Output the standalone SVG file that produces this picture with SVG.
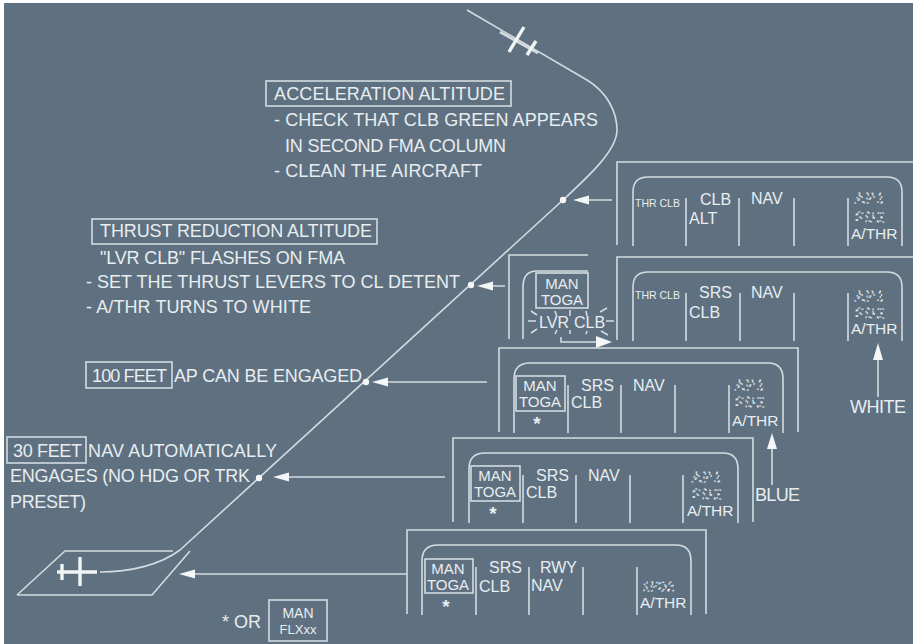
<svg xmlns="http://www.w3.org/2000/svg" width="913" height="644" viewBox="0 0 913 644">
<style>
text{font-family:"Liberation Sans",Arial,sans-serif;fill:#e8edf0;font-size:16px}
.n{font-size:18px}
.l{fill:none;stroke:#d3dbe0;stroke-width:1.6}
.w{fill:none;stroke:#f2f5f6;stroke-width:3.4}
.m{font-size:15px}
.t{font-size:15.5px}
.s{font-size:10.5px}
.r{font-size:19px;font-weight:bold}
.d{font-size:14px;letter-spacing:1.5px;fill:none;stroke:#e8edf0;stroke-width:1;stroke-dasharray:2 3.5}
.h{fill:#f4f6f7}
.a{fill:#f4f6f7;stroke:none}
</style>
<defs>
<path id="ah" class="a" d="M0 0L16 -4.5V4.5Z"/>
</defs>
<rect width="913" height="644" fill="#fff"/>
<rect x="4" y="3" width="909" height="641" fill="#5f7181"/>

<g id="connectors">
<path class="l" d="M467 10L587 80C607 92 617 112 617 130C617 150 590 175 563 200L180 550C160 565 130 572 100 572"/>
<circle class="h" cx="563" cy="200" r="3.2"/>
<circle class="h" cx="471" cy="285" r="3.2"/>
<circle class="h" cx="366" cy="382" r="3.2"/>
<circle class="h" cx="259" cy="478" r="3.2"/>
<path class="l" d="M585 200H612M490 286H505M386 382H487M285 477H445M195 574H407"/>
<use href="#ah" x="573" y="200"/>
<use href="#ah" x="477" y="286"/>
<use href="#ah" x="372" y="382"/>
<use href="#ah" x="273" y="477"/>
<use href="#ah" x="179" y="574"/>
<path class="l" d="M561 337V342H600"/>
<path class="a" d="M612 342L596 336V348Z"/>
<path class="l" d="M878 397V356"/>
<path class="a" d="M878 343L873 360H883Z"/>
<path class="l" d="M772 485V445"/>
<path class="a" d="M772 433L767 449H777Z"/>
</g>

<g id="plane-top">
<path class="l" style="stroke-width:2.6" d="M500 32L538 53"/>
<path class="w" d="M509 52L524 27M527 55L536 41"/>
</g>
<g id="runway">
<path class="l" d="M17 595L65 551H173M190 551L152 595H17"/>
<path class="w" d="M57 572H97M80 557V586M62 564V580"/>
</g>

<g id="note-accel">
<rect class="l" x="266" y="81" width="245" height="25"/>
<text class="n" x="274" y="100" textLength="231">ACCELERATION ALTITUDE</text>
<text class="n" x="274" y="126" textLength="324">- CHECK THAT CLB GREEN APPEARS</text>
<text class="n" x="285" y="152" textLength="221">IN SECOND FMA COLUMN</text>
<text class="n" x="274" y="177" textLength="208">- CLEAN THE AIRCRAFT</text>
</g>
<g id="note-thrust">
<rect class="l" x="92" y="219" width="285" height="25"/>
<text class="n" x="100" y="237" textLength="272">THRUST REDUCTION ALTITUDE</text>
<text class="n" x="100" y="264" textLength="245">"LVR CLB" FLASHES ON FMA</text>
<text class="n" x="86" y="288" textLength="374">- SET THE THRUST LEVERS TO CL DETENT</text>
<text class="n" x="86" y="313" textLength="225">- A/THR TURNS TO WHITE</text>
</g>
<g id="note-100">
<rect class="l" x="86" y="362" width="86" height="26"/>
<text class="n" x="92" y="382" textLength="75">100 FEET</text>
<text class="n" x="174" y="382" textLength="188">AP CAN BE ENGAGED</text>
</g>
<g id="note-30">
<rect class="l" x="7" y="437" width="79" height="26"/>
<text class="n" x="13" y="457" textLength="69">30 FEET</text>
<text class="n" x="88" y="457" textLength="189">NAV AUTOMATICALLY</text>
<text class="n" x="10" y="482" textLength="240">ENGAGES (NO HDG OR TRK</text>
<text class="n" x="10" y="508" textLength="76">PRESET)</text>
</g>
<g id="note-star">
<text class="n" x="222" y="628">* OR</text>
<rect class="l" x="269" y="600" width="58" height="41"/>
<text x="298" y="618" text-anchor="middle" style="font-size:14px">MAN</text>
<text x="298" y="634" text-anchor="middle" style="font-size:13px">FLXxx</text>
</g>

<g id="fma-alt">
<path class="l" d="M617 245V162H913"/>
<path class="l" d="M633 246V192Q633 177 648 177H887Q902 177 902 192V246M686 198V246M739 198V246M794 198V246M848 198V246"/>
<text class="s" x="635" y="207">THR CLB</text>
<text x="700" y="205">CLB</text>
<text x="689" y="224">ALT</text>
<text x="751" y="204">NAV</text>
<text class="d" x="855" y="203">AP1</text>
<text class="d" x="855" y="222">FD2</text>
<text class="t" x="851" y="239">A/THR</text>
</g>
<g id="fma-thr">
<path class="l" d="M617 340V257H913"/>
<path class="l" d="M633 341V287Q633 272 648 272H887Q902 272 902 287V341M686 293V341M740 293V341M794 293V341M848 293V341"/>
<text class="s" x="635" y="299">THR CLB</text>
<text x="699" y="298">SRS</text>
<text x="689" y="318">CLB</text>
<text x="751" y="298">NAV</text>
<text class="d" x="855" y="301">AP1</text>
<text class="d" x="855" y="318">FD2</text>
<text class="t" x="851" y="334">A/THR</text>
</g>
<g id="fma-lvr">
<path class="l" d="M509 339V255H588"/>
<path class="l" d="M523 339V287Q523 271 537 271H588"/>
<rect class="l" x="536" y="273" width="52" height="35"/>
<text class="m" x="562" y="289" text-anchor="middle">MAN</text>
<text class="m" x="562" y="305" text-anchor="middle">TOGA</text>
<text class="m" x="539" y="328" style="font-size:16px">LVR</text>
<text class="m" x="574" y="328" style="font-size:16px">CLB</text>
<path class="l" d="M528 321H536M531 311L537 315M531 333L537 329M555 311L557 317M555 334L557 330M570 310V316M570 334V330M586 311L587 316M586 334L587 331M600 312L607 308M606 321H614M601 331L608 335"/>
</g>
<g id="fma-100">
<path class="l" d="M499 432V348H798V432"/>
<path class="l" d="M514 433V379Q514 363 530 363H768Q783 363 783 379V433M568 385V433M621 385V433M675 385V433M729 385V433"/>
<rect class="l" x="516" y="376" width="49" height="35"/>
<text class="m" x="540" y="391" text-anchor="middle">MAN</text>
<text class="m" x="540" y="407" text-anchor="middle">TOGA</text>
<text class="r" x="537" y="430" text-anchor="middle">*</text>
<text x="581" y="391">SRS</text>
<text x="571" y="408">CLB</text>
<text x="633" y="391">NAV</text>
<text class="d" x="735" y="390">AP1</text>
<text class="d" x="735" y="407">FD2</text>
<text class="t" x="732" y="426">A/THR</text>
</g>
<g id="fma-30">
<path class="l" d="M453 522V438H753V522"/>
<path class="l" d="M469 523V469Q469 453 485 453H723Q738 453 738 469V523M523 475V523M576 475V523M630 475V523M683 475V523"/>
<rect class="l" x="471" y="466" width="49" height="35"/>
<text class="m" x="495" y="481" text-anchor="middle">MAN</text>
<text class="m" x="495" y="497" text-anchor="middle">TOGA</text>
<text class="r" x="493" y="520" text-anchor="middle">*</text>
<text x="536" y="481">SRS</text>
<text x="526" y="498">CLB</text>
<text x="588" y="481">NAV</text>
<text class="d" x="692" y="482">AP1</text>
<text class="d" x="692" y="499">FD2</text>
<text class="t" x="687" y="516">A/THR</text>
</g>
<g id="fma-to">
<path class="l" d="M407 614V530H706V614"/>
<path class="l" d="M422 615V561Q422 545 438 545H676Q691 545 691 561V615M476 567V615M529 567V615M583 567V615M637 567V615"/>
<rect class="l" x="425" y="559" width="48" height="34"/>
<text class="m" x="448" y="574" text-anchor="middle">MAN</text>
<text class="m" x="448" y="590" text-anchor="middle">TOGA</text>
<text class="r" x="446" y="613" text-anchor="middle">*</text>
<text x="489" y="573">SRS</text>
<text x="479" y="592">CLB</text>
<text x="540" y="573">RWY</text>
<text x="531" y="591">NAV</text>
<text class="d" x="643" y="591" style="font-size:12px;letter-spacing:.5px">1FD2</text>
<text class="t" x="640" y="608">A/THR</text>
</g>
<g id="labels">
<text class="n" x="850" y="413" textLength="56">WHITE</text>
<text class="n" x="755" y="501" textLength="45">BLUE</text>
</g>
</svg>
